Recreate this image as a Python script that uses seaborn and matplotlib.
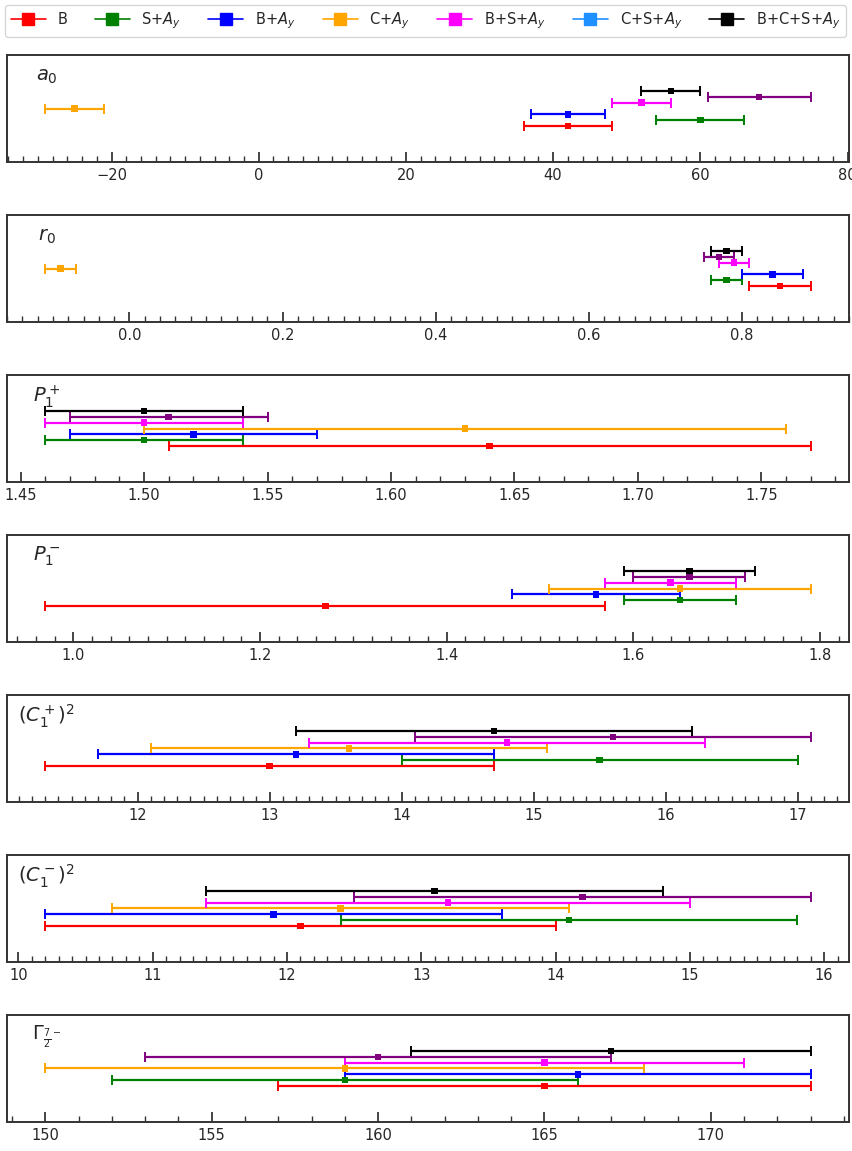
import numpy as np
import pandas as pd
import matplotlib
matplotlib.use("Agg")
import matplotlib.pyplot as plt
import seaborn as sns
from matplotlib.ticker import MultipleLocator
from matplotlib.lines import Line2D

series = ["B", "S+$A_y$", "B+$A_y$", "C+$A_y$", "B+S+$A_y$", "C+S+$A_y$", "B+C+S+$A_y$"]
plot_colors = ["red", "green", "blue", "orange", "magenta", "purple", "black"]
legend_colors = ["red", "green", "blue", "orange", "magenta", "dodgerblue", "black"]

panel_labels = ["$a_0$", "$r_0$", "$P_1^+$", "$P_1^-$", "$(C_1^+)^2$", "$(C_1^-)^2$",
                r"$\Gamma_{\frac{7}{2}^-}$"]

a0_val = [42, 60, 42, -25, 52, 68, 56]
a0_err = [6, 6, 5, 4, 4, 7, 4]
r0_val = [0.85, 0.78, 0.84, -0.09, 0.79, 0.77, 0.78]
r0_err = [0.04, 0.02, 0.04, 0.02, 0.02, 0.02, 0.02]
p1p_val = [1.64, 1.50, 1.52, 1.63, 1.50, 1.51, 1.50]
p1p_err = [0.13, 0.04, 0.05, 0.13, 0.04, 0.04, 0.04]
p1m_val = [1.27, 1.65, 1.56, 1.65, 1.64, 1.66, 1.66]
p1m_err = [0.30, 0.06, 0.09, 0.14, 0.07, 0.06, 0.07]
c1p_val = [13.0, 15.5, 13.2, 13.6, 14.8, 15.6, 14.7]
c1p_err = [1.7, 1.5, 1.5, 1.5, 1.5, 1.5, 1.5]
c1m_val = [12.1, 14.1, 11.9, 12.4, 13.2, 14.2, 13.1]
c1m_err = [1.9, 1.7, 1.7, 1.7, 1.8, 1.7, 1.7]
gam_val = [165, 159, 166, 159, 165, 160, 167]
gam_err = [8, 7, 7, 9, 6, 7, 6]

values = [a0_val, r0_val, p1p_val, p1m_val, c1p_val, c1m_val, gam_val]
errors = [a0_err, r0_err, p1p_err, p1m_err, c1p_err, c1m_err, gam_err]
minor_steps = [2, 0.02, 0.01, 0.02, 0.1, 0.1, 1]

sns.set_style("ticks")
plt.rcParams["font.family"] = ["DejaVu Sans"]

W, H = 853, 1151
fig, axes = plt.subplots(7, 1, figsize=(W / 100, H / 100), dpi=100)
fig.subplots_adjust(left=7 / W, right=849 / W, top=1 - 55 / H, bottom=1 - 1122 / H,
                    hspace=0.495)

for ax, lab, vals, errs, mstep in zip(axes, panel_labels, values, errors, minor_steps):
    df = pd.DataFrame({"series": series, "value": vals, "err": errs,
                       "pos": np.arange(len(series))})
    for i, row in df.iterrows():
        ax.errorbar(row["value"], row["pos"], xerr=row["err"], fmt="none",
                    ecolor=plot_colors[i], elinewidth=1.6, capsize=3.8, capthick=1.4,
                    zorder=2)
    sns.scatterplot(data=df, x="value", y="pos", hue="series", palette=plot_colors,
                    marker="s", s=22, linewidth=0, legend=False, ax=ax, zorder=3)
    ax.set_ylim(-6.2, 12.2)
    ax.set_yticks([])
    ax.set_xlabel("")
    ax.set_ylabel("")
    ax.xaxis.set_minor_locator(MultipleLocator(mstep))
    ax.tick_params(axis="x", which="major", direction="in", length=7, width=1.2,
                   labelsize=10.5, pad=4)
    ax.tick_params(axis="x", which="minor", direction="in", length=4, width=1.0,
                   color="#333333")
    for sp in ax.spines.values():
        sp.set_visible(True)
        sp.set_linewidth(1.4)
        sp.set_color("#333333")
    ax.text(0.047, 0.80, lab, transform=ax.transAxes, ha="center", va="center",
            fontsize=14)

handles = [Line2D([], [], color=c, marker="s", markersize=9, lw=1.2) for c in legend_colors]
fig.legend(handles, series, loc="lower left",
           bbox_to_anchor=(5 / W, 1 - 37 / H, 841 / W, 34 / H), mode="expand",
           ncol=7, fontsize=10.5, frameon=True, borderaxespad=0, handlelength=2.4)

fig.savefig("out.png", dpi=100)
